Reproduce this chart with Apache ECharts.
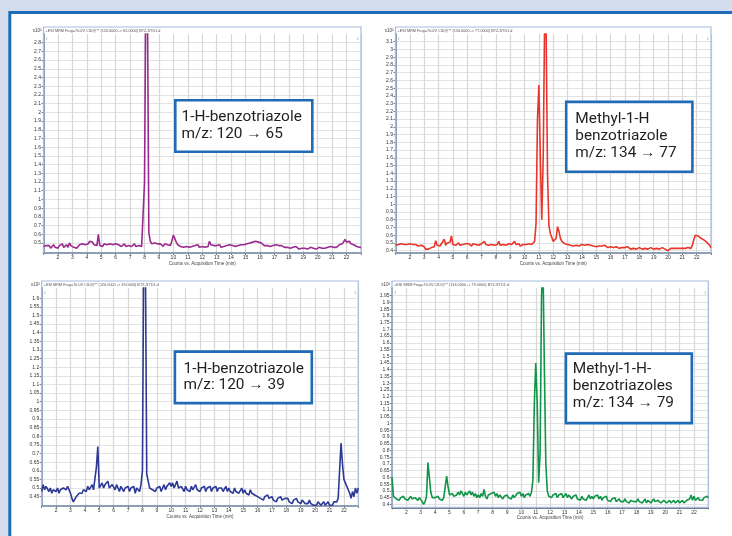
<!DOCTYPE html>
<html><head><meta charset="utf-8">
<script src="https://cdn.jsdelivr.net/npm/echarts@6/dist/echarts.min.js"></script>
<style>html,body{margin:0;padding:0;background:#d4ddee;}#c{width:732px;height:536px;}</style>
</head><body><div id="c"></div>
<script>
// sampling of the chromatograms (minutes)
const timeStart = 1.0, timeStep = 0.1;
const xTicks = [2,3,4,5,6,7,8,9,10,11,12,13,14,15,16,17,18,19,20,21,22];

const p1YTicks = [0.5,0.6,0.7,0.8,0.9,1,1.1,1.2,1.3,1.4,1.5,1.6,1.7,1.8,1.9,2,2.1,2.2,2.3,2.4,2.5,2.6,2.7,2.8];
const p2YTicks = [0.4,0.5,0.6,0.7,0.8,0.9,1,1.1,1.2,1.3,1.4,1.5,1.6,1.7,1.8,1.9,2,2.1,2.2,2.3,2.4,2.5,2.6,2.7,2.8,2.9,3,3.1];
const p3YTicks = [0.45,0.5,0.55,0.6,0.65,0.7,0.75,0.8,0.85,0.9,0.95,1,1.05,1.1,1.15,1.2,1.25,1.3,1.35,1.4,1.45,1.5,1.55,1.6];
const p4YTicks = [0.4,0.45,0.5,0.55,0.6,0.65,0.7,0.75,0.8,0.85,0.9,0.95,1,1.05,1.1,1.15,1.2,1.25,1.3,1.35,1.4,1.45,1.5,1.55,1.6,1.65,1.7,1.75,1.8,1.85,1.9,1.95];

// 1-H-benzotriazole 120 -> 65 (x10^2 counts)
const p1Values = [
0.46,0.44,0.47,0.45,0.47,0.44,0.46,0.48,0.45,0.46,
0.44,0.47,0.46,0.49,0.45,0.46,0.48,0.45,0.50,0.47,
0.46,0.45,0.47,0.44,0.46,0.48,0.47,0.49,0.47,0.48,
0.50,0.49,0.52,0.50,0.51,0.48,0.49,0.47,0.60,0.47,
0.48,0.46,0.49,0.47,0.48,0.46,0.49,0.47,0.48,0.46,
0.49,0.47,0.48,0.50,0.46,0.47,0.49,0.46,0.48,0.47,
0.49,0.46,0.47,0.49,0.46,0.48,0.47,0.49,0.46,0.45,
1.20,3.60,3.30,0.62,0.52,0.49,0.47,0.50,0.48,0.49,
0.47,0.49,0.48,0.46,0.49,0.47,0.48,0.46,0.47,0.49,
0.59,0.55,0.51,0.48,0.47,0.46,0.48,0.45,0.47,0.46,
0.48,0.45,0.47,0.46,0.44,0.47,0.46,0.48,0.45,0.47,
0.46,0.48,0.45,0.47,0.46,0.52,0.48,0.46,0.47,0.45,
0.47,0.46,0.48,0.45,0.47,0.46,0.48,0.47,0.45,0.48,
0.46,0.47,0.49,0.46,0.48,0.47,0.49,0.48,0.50,0.48,
0.50,0.49,0.51,0.50,0.49,0.51,0.50,0.52,0.53,0.51,
0.49,0.50,0.48,0.47,0.49,0.47,0.48,0.46,0.48,0.47,
0.46,0.48,0.46,0.47,0.45,0.47,0.46,0.45,0.47,0.45,
0.46,0.44,0.46,0.45,0.44,0.46,0.45,0.43,0.45,0.44,
0.46,0.44,0.45,0.43,0.44,0.45,0.43,0.44,0.45,0.43,
0.44,0.45,0.43,0.44,0.46,0.44,0.43,0.45,0.44,0.46,
0.44,0.45,0.47,0.45,0.46,0.48,0.47,0.49,0.48,0.54,
0.51,0.50,0.52,0.49,0.50,0.48,0.47,0.46,0.47,0.45,
0.45];

// Methyl-1-H benzotriazole 134 -> 77
const p2Values = [
0.47,0.46,0.48,0.47,0.49,0.47,0.48,0.46,0.48,0.47,
0.49,0.47,0.48,0.46,0.48,0.47,0.46,0.48,0.47,0.49,
0.45,0.42,0.43,0.42,0.43,0.44,0.46,0.45,0.53,0.47,
0.48,0.46,0.49,0.47,0.55,0.47,0.50,0.49,0.51,0.59,
0.48,0.49,0.47,0.48,0.50,0.47,0.49,0.48,0.46,0.49,
0.47,0.49,0.48,0.46,0.49,0.47,0.48,0.49,0.47,0.48,
0.49,0.47,0.52,0.48,0.50,0.47,0.49,0.48,0.50,0.47,
0.49,0.48,0.52,0.47,0.49,0.48,0.50,0.47,0.46,0.49,
0.47,0.48,0.46,0.52,0.48,0.47,0.49,0.46,0.47,0.48,
0.46,0.48,0.47,0.49,0.47,0.48,0.49,0.52,0.75,2.10,
2.54,1.60,0.80,1.60,3.40,3.30,1.40,0.72,0.62,0.57,
0.52,0.51,0.56,0.71,0.65,0.56,0.52,0.50,0.49,0.50,
0.48,0.49,0.47,0.48,0.46,0.48,0.47,0.49,0.46,0.47,
0.48,0.46,0.47,0.45,0.48,0.46,0.47,0.45,0.46,0.47,
0.45,0.47,0.46,0.44,0.46,0.45,0.47,0.46,0.44,0.46,
0.45,0.47,0.44,0.43,0.45,0.44,0.43,0.45,0.44,0.43,
0.44,0.43,0.45,0.44,0.42,0.44,0.43,0.44,0.42,0.43,
0.44,0.43,0.42,0.44,0.43,0.44,0.42,0.43,0.44,0.43,
0.42,0.44,0.43,0.44,0.42,0.43,0.44,0.43,0.42,0.41,
0.40,0.42,0.43,0.44,0.43,0.44,0.43,0.44,0.43,0.44,
0.43,0.44,0.43,0.42,0.44,0.43,0.43,0.47,0.54,0.60,
0.61,0.59,0.58,0.56,0.55,0.54,0.52,0.51,0.49,0.47,
0.44];

// 1-H-benzotriazole 120 -> 39
const p3Values = [
0.48,0.52,0.49,0.51,0.50,0.48,0.50,0.47,0.49,0.50,
0.48,0.50,0.47,0.49,0.48,0.50,0.51,0.49,0.51,0.50,
0.47,0.44,0.42,0.43,0.45,0.46,0.47,0.48,0.47,0.49,
0.50,0.48,0.51,0.49,0.50,0.52,0.49,0.48,0.62,0.74,
0.50,0.51,0.53,0.50,0.52,0.51,0.54,0.50,0.49,0.52,
0.51,0.49,0.52,0.50,0.48,0.51,0.50,0.48,0.50,0.49,
0.51,0.48,0.50,0.49,0.51,0.47,0.50,0.49,0.48,0.52,
0.60,2.00,1.90,0.58,0.54,0.50,0.51,0.49,0.50,0.48,
0.50,0.49,0.51,0.48,0.50,0.52,0.49,0.51,0.50,0.53,
0.51,0.53,0.50,0.52,0.54,0.50,0.49,0.51,0.50,0.48,
0.51,0.49,0.50,0.48,0.51,0.49,0.50,0.52,0.49,0.50,
0.48,0.50,0.49,0.51,0.48,0.50,0.49,0.51,0.48,0.50,
0.49,0.51,0.48,0.50,0.49,0.50,0.48,0.49,0.51,0.48,
0.50,0.48,0.49,0.47,0.50,0.48,0.49,0.47,0.48,0.50,
0.47,0.49,0.47,0.48,0.46,0.49,0.47,0.48,0.46,0.47,
0.45,0.46,0.44,0.45,0.43,0.45,0.44,0.46,0.44,0.43,
0.45,0.43,0.44,0.42,0.44,0.43,0.45,0.43,0.42,0.44,
0.43,0.44,0.42,0.43,0.41,0.43,0.42,0.44,0.42,0.43,
0.41,0.43,0.42,0.41,0.42,0.41,0.43,0.41,0.42,0.40,
0.41,0.40,0.42,0.41,0.40,0.41,0.42,0.40,0.41,0.42,
0.40,0.41,0.40,0.42,0.41,0.42,0.44,0.60,0.76,0.64,
0.55,0.53,0.51,0.49,0.47,0.44,0.48,0.45,0.50,0.47,
0.50];

// Methyl-1-H-benzotriazoles 134 -> 79
const p4Values = [
0.60,0.46,0.45,0.44,0.45,0.43,0.45,0.44,0.46,0.44,
0.45,0.43,0.44,0.46,0.44,0.43,0.45,0.44,0.43,0.45,
0.44,0.42,0.40,0.42,0.46,0.71,0.60,0.49,0.45,0.44,
0.45,0.44,0.46,0.44,0.45,0.43,0.45,0.44,0.61,0.53,
0.47,0.46,0.48,0.46,0.45,0.47,0.49,0.47,0.50,0.48,
0.46,0.49,0.47,0.48,0.50,0.47,0.49,0.46,0.48,0.45,
0.47,0.45,0.48,0.46,0.51,0.46,0.44,0.47,0.46,0.48,
0.47,0.49,0.46,0.48,0.45,0.47,0.46,0.44,0.46,0.45,
0.47,0.45,0.46,0.44,0.47,0.45,0.46,0.48,0.47,0.49,
0.46,0.48,0.45,0.47,0.46,0.48,0.46,0.49,0.58,1.15,
1.45,1.15,0.56,0.78,1.95,2.20,1.40,0.70,0.50,0.46,
0.47,0.45,0.47,0.46,0.48,0.45,0.47,0.46,0.48,0.45,
0.46,0.48,0.45,0.47,0.46,0.44,0.46,0.45,0.47,0.44,
0.45,0.43,0.46,0.44,0.45,0.43,0.45,0.47,0.44,0.46,
0.44,0.46,0.45,0.47,0.44,0.46,0.43,0.45,0.44,0.46,
0.43,0.44,0.42,0.44,0.43,0.45,0.42,0.43,0.44,0.42,
0.43,0.42,0.44,0.42,0.43,0.41,0.43,0.44,0.42,0.43,
0.42,0.44,0.42,0.43,0.41,0.42,0.44,0.41,0.43,0.42,
0.41,0.42,0.44,0.42,0.41,0.43,0.42,0.41,0.42,0.43,
0.42,0.41,0.42,0.43,0.41,0.42,0.43,0.41,0.42,0.43,
0.41,0.42,0.43,0.41,0.42,0.43,0.42,0.44,0.47,0.43,
0.46,0.43,0.44,0.45,0.43,0.44,0.43,0.45,0.44,0.46,
0.45];

const p1Title = '+ESI MRM Frag=70.0V CID@** (120.0000 -> 65.0000) BTZ-STD1.d';
const p2Title = '+ESI MRM Frag=70.0V CID@** (134.0000 -> 77.0000) BTZ-STD1.d';
const p3Title = '+ESI MRM Frag=70.0V CID@** (120.0000 -> 39.0000) BTZ-STD1.d';
const p4Title = '+ESI MRM Frag=70.0V CID@** (134.0000 -> 79.0000) BTZ-STD1.d';
const p1Label = ['1-H-benzotriazole', 'm/z: 120 \u2192 65'];
const p2Label = ['Methyl-1-H', 'benzotriazole', 'm/z: 134 \u2192 77'];
const p3Label = ['1-H-benzotriazole', 'm/z: 120 \u2192 39'];
const p4Label = ['Methyl-1-H-', 'benzotriazoles', 'm/z: 134 \u2192 79'];
const xAxisTitle = 'Counts vs. Acquisition Time (min)';
const yExponent = 'x10\u00b2';

const panels = [
  {vals:p1Values, ticks:p1YTicks, color:'#9a2a8e', title:p1Title, label:p1Label,
   g:{left:43.5, top:34, width:317.5, height:219}, ymin:0.385, ymax:2.90, frameTop:27,
   box:{x:175.3, y:100.3, w:137, h:51.4}, tx:181.5, ty:[117.3,133.8]},
  {vals:p2Values, ticks:p2YTicks, color:'#e8352b', title:p2Title, label:p2Label,
   g:{left:395.5, top:34, width:315.5, height:219}, ymin:0.37, ymax:3.20, frameTop:27,
   box:{x:566.2, y:101.9, w:126.2, h:69.9}, tx:575.3, ty:[119.2,136.5,153.6]},
  {vals:p3Values, ticks:p3YTicks, color:'#2d3a95', title:p3Title, label:p3Label,
   g:{left:41.7, top:288, width:316.6, height:218}, ymin:0.396, ymax:1.659, frameTop:281,
   box:{x:174.9, y:351.6, w:136.9, h:51.5}, tx:183.5, ty:[368.8,385.3]},
  {vals:p4Values, ticks:p4YTicks, color:'#0f9448', title:p4Title, label:p4Label,
   g:{left:392, top:288, width:316.3, height:219.3}, ymin:0.378, ymax:2.007, frameTop:281,
   box:{x:565.9, y:353.6, w:125.9, h:69.5}, tx:572.7, ty:[368.8,386.1,403.2]}
];

const fmt = v => String(Math.round(v * 100) / 100);
const graphics = [
  {type:'rect', z:-10, shape:{x:9.8, y:12.5, width:800, height:600},
   style:{fill:'#ffffff', stroke:'#1d6cb6', lineWidth:3}}
];
panels.forEach(p => {
  const L = p.g.left, R = p.g.left + p.g.width, B = p.g.top + p.g.height;
  graphics.push({type:'rect', z:1, shape:{x:L, y:p.frameTop, width:p.g.width, height:B - p.frameTop},
    style:{fill:'none', stroke:'#a6bddd', lineWidth:1.2}});
  graphics.push({type:'text', z:3, style:{text:yExponent, x:L - 2, y:p.frameTop + 3.5, align:'right',
    verticalAlign:'middle', font:'4.5px "Liberation Sans"', fill:'#444'}});
  graphics.push({type:'text', z:3, style:{text:p.title, x:L + 2, y:p.frameTop + 3.5, align:'left',
    verticalAlign:'middle', font:'3.8px "Liberation Sans"', fill:'#555'}});
  graphics.push({type:'text', z:3, style:{text:'1', x:L + 2, y:p.g.top + 5, align:'left',
    verticalAlign:'middle', font:'4px "Liberation Sans"', fill:'#999'}});
  graphics.push({type:'text', z:3, style:{text:'1', x:R - 2, y:p.g.top + 5, align:'right',
    verticalAlign:'middle', font:'4px "Liberation Sans"', fill:'#999'}});
  graphics.push({type:'rect', z:20, shape:{x:p.box.x, y:p.box.y, width:p.box.w, height:p.box.h},
    style:{fill:'#ffffff', stroke:'#1f6bb5', lineWidth:2.6}});
  p.label.forEach((line, k) => {
    graphics.push({type:'text', z:21, style:{text:line, x:p.tx, y:p.ty[k], align:'left',
      verticalAlign:'middle', font:'15.4px Roboto', fill:'#231f20'}});
  });
});

const option = {
  backgroundColor:'#d4ddee',
  animation:false,
  grid: panels.map(p => ({left:p.g.left, top:p.g.top, width:p.g.width, height:p.g.height, containLabel:false})),
  xAxis: panels.map((p, i) => ({
    type:'value', gridIndex:i, min:1, max:23, interval:1,
    name:xAxisTitle, nameLocation:'middle', nameGap:8,
    nameTextStyle:{fontSize:4.5, color:'#444', fontFamily:'Liberation Sans', verticalAlign:'top'},
    axisLine:{show:true, onZero:false, lineStyle:{color:'#4a5568', width:1.5}},
    axisTick:{show:true, length:2, lineStyle:{color:'#555', width:0.8}},
    axisLabel:{customValues:xTicks, fontSize:5, margin:2.5, color:'#333', fontFamily:'Liberation Sans'},
    splitLine:{show:true, lineStyle:{color:'#d8d8d8', width:1.2}}
  })),
  yAxis: panels.map((p, i) => ({
    type:'value', gridIndex:i, min:p.ymin, max:p.ymax,
    axisLine:{show:true, onZero:false, lineStyle:{color:'#8a9cb8', width:2}},
    axisTick:{show:true, length:2, customValues:p.ticks, lineStyle:{color:'#555', width:0.8}},
    axisLabel:{customValues:p.ticks, fontSize:5, margin:2.5, color:'#333', fontFamily:'Liberation Sans', formatter:fmt},
    splitLine:{show:true, lineStyle:{color:'#e3e3e3', width:1}}
  })),
  series: panels.map((p, i) => ({
    type:'line', xAxisIndex:i, yAxisIndex:i, symbol:'none', showSymbol:false, clip:true, z:5,
    lineStyle:{color:p.color, width:1.6}, itemStyle:{color:p.color},
    data: p.vals.map((v, k) => [+(timeStart + k * timeStep).toFixed(1), v])
  })),
  graphic: graphics
};
const chart = echarts.init(document.getElementById('c'), null, {renderer:'canvas'});
chart.setOption(option);
</script></body></html>
